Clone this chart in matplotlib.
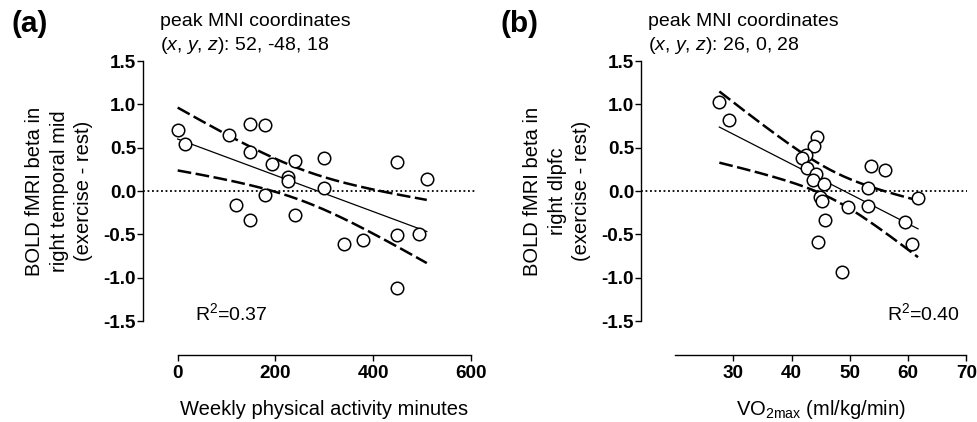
import numpy as np
import matplotlib
matplotlib.use('Agg')
import matplotlib.pyplot as plt

plt.rcParams['font.family'] = ['Liberation Sans', 'DejaVu Sans']
plt.rcParams['mathtext.fontset'] = 'custom'
plt.rcParams['mathtext.rm'] = 'Liberation Sans'
plt.rcParams['mathtext.it'] = 'Liberation Sans:italic'
plt.rcParams['mathtext.bf'] = 'Liberation Sans:bold'
plt.rcParams['mathtext.default'] = 'regular'

# data (a): weekly activity minutes vs beta
pa_minutes = [0, 15, 105, 149, 179, 149, 194, 240, 300, 225, 225, 300,
              179, 120, 149, 240, 450, 510, 340, 380, 450, 495, 450]
pa_beta = [0.70, 0.54, 0.65, 0.77, 0.76, 0.45, 0.31, 0.35, 0.38, 0.165, 0.12, 0.03,
           -0.05, -0.16, -0.33, -0.28, 0.33, 0.14, -0.61, -0.56, -0.51, -0.50, -1.12]

# data (b): VO2max vs beta
vo2 = [27.6, 29.2, 44.4, 43.9, 42.5, 41.8, 53.6, 56.1, 42.6, 44.2, 43.6, 45.5,
       53.1, 44.9, 45.3, 49.7, 53.2, 61.7, 45.7, 59.5, 44.5, 60.6, 48.7]
vo2_beta = [1.03, 0.82, 0.62, 0.52, 0.41, 0.38, 0.29, 0.24, 0.26, 0.20, 0.13, 0.08,
            0.04, -0.07, -0.11, -0.19, -0.17, -0.08, -0.33, -0.36, -0.59, -0.61, -0.93]

T_CRIT = 2.080  # t(0.975, df=21)


def fit_ci(x, y):
    x = np.asarray(x, float)
    y = np.asarray(y, float)
    n = len(x)
    slope, icpt = np.polyfit(x, y, 1)
    xs = np.linspace(x.min(), x.max(), 200)
    yhat = icpt + slope * xs
    resid = y - (icpt + slope * x)
    s = np.sqrt(np.sum(resid ** 2) / (n - 2))
    sxx = np.sum((x - x.mean()) ** 2)
    se = s * np.sqrt(1.0 / n + (xs - x.mean()) ** 2 / sxx)
    return xs, yhat, yhat - T_CRIT * se, yhat + T_CRIT * se


def draw_panel(ax, x, y, xlim, xbounds, xticks, xlabel, ylabel, r2, r2_pos, ylab_x):
    ax.axhline(0, color='black', ls=(0, (1, 1.5)), lw=1.3, zorder=1)
    xs, yhat, lo, hi = fit_ci(x, y)
    ax.plot(xs, yhat, color='black', lw=0.9)
    ax.plot(xs, lo, color='black', lw=1.8, ls=(0, (5.5, 1.8)))
    ax.plot(xs, hi, color='black', lw=1.8, ls=(0, (5.5, 1.8)))
    ax.plot(x, y, 'o', ms=9, mfc='white', mec='black', mew=1.1, zorder=3)

    ax.set_xlim(*xlim)
    ax.set_ylim(-1.5, 1.5)
    ax.set_yticks([-1.5, -1.0, -0.5, 0.0, 0.5, 1.0, 1.5])
    ax.set_yticklabels(['-1.5', '-1.0', '-0.5', '0.0', '0.5', '1.0', '1.5'])
    ax.set_xticks(xticks)
    for s in ['top', 'right']:
        ax.spines[s].set_visible(False)
    ax.spines['bottom'].set_position(('outward', 24.5))
    ax.spines['bottom'].set_bounds(*xbounds)
    ax.spines['left'].set_linewidth(1.0)
    ax.spines['bottom'].set_linewidth(1.0)
    ax.tick_params(direction='out', length=4, width=1.0, labelsize=13.6, pad=3)
    ax.tick_params(axis='y', pad=1)
    for lab in ax.get_xticklabels() + ax.get_yticklabels():
        lab.set_fontweight('bold')

    # x label: centred under the spine, baseline ~415 px from top
    ax.set_xlabel(xlabel, fontsize=14.5)
    mid = (xbounds[0] + xbounds[1]) / 2.0
    ax.xaxis.set_label_coords((mid - xlim[0]) / (xlim[1] - xlim[0]), -94 / 260)
    ax.xaxis.label.set_va('baseline')
    ax.set_ylabel(ylabel, fontsize=14.5, linespacing=1.35)
    ax.yaxis.set_label_coords(ylab_x, 0.5)
    ax.text(r2_pos[0], r2_pos[1], r2, fontsize=14, transform=ax.transAxes,
            ha='left', va='center')


fig = plt.figure(figsize=(9.78, 4.22), dpi=100)
ax1 = fig.add_axes([0.1462, 0.2393, 0.3415, 0.6161])
ax2 = fig.add_axes([0.6554, 0.2393, 0.3333, 0.6161])

draw_panel(ax1, pa_minutes, pa_beta, (-71, 612.7), (0, 600), [0, 200, 400, 600],
           'Weekly physical activity minutes',
           'BOLD fMRI beta in\nright temporal mid\n(exercise - rest)',
           r'R$^2$=0.37', (0.155, 0.03), -50 / 334)
draw_panel(ax2, vo2, vo2_beta, (14.15, 70.1), (20, 70), [30, 40, 50, 60, 70],
           r'VO$_{2max}$ (ml/kg/min)',
           'BOLD fMRI beta in\nright dlpfc\n(exercise - rest)',
           r'R$^2$=0.40', (0.755, 0.03), -50 / 326)

fig.text(12 / 978, 1 - 10 / 422, '(a)', fontsize=21.5, fontweight='bold', va='top')
fig.text(501 / 978, 1 - 10 / 422, '(b)', fontsize=21.5, fontweight='bold', va='top')
fig.text(160 / 978, 1 - 13 / 422,
         'peak MNI coordinates\n($\\mathit{x}$, $\\mathit{y}$, $\\mathit{z}$): 52, -48, 18',
         fontsize=14, va='top', linespacing=1.3)
fig.text(648 / 978, 1 - 13 / 422,
         'peak MNI coordinates\n($\\mathit{x}$, $\\mathit{y}$, $\\mathit{z}$): 26, 0, 28',
         fontsize=14, va='top', linespacing=1.3)

fig.savefig('out.png', dpi=100)
